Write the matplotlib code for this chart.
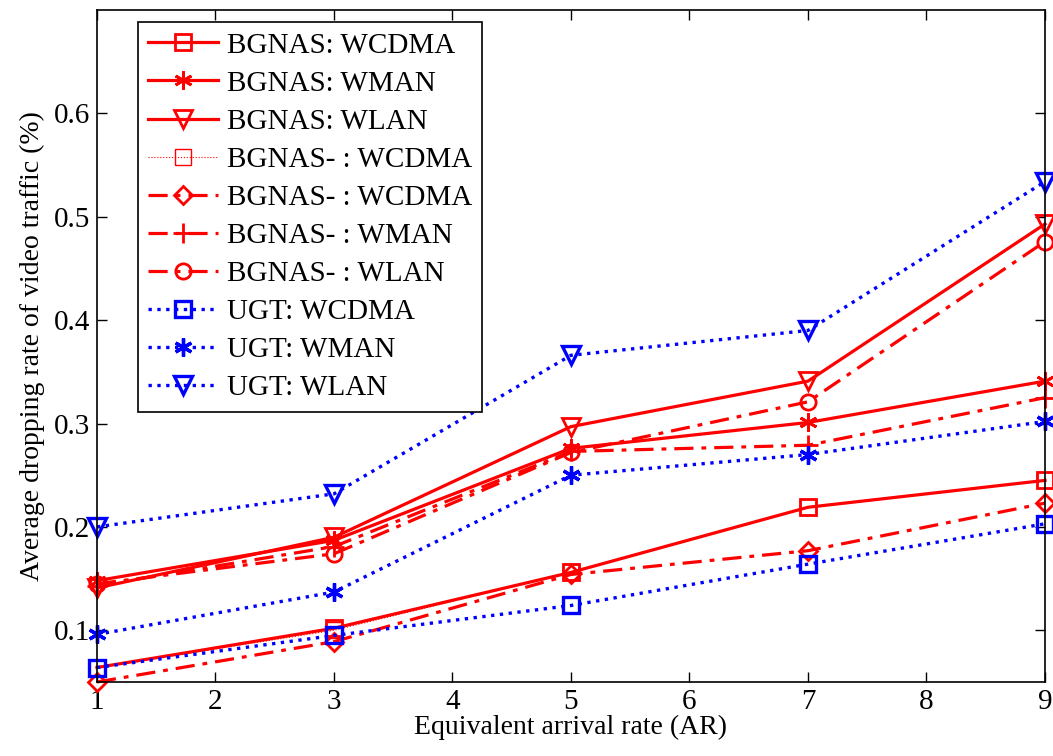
import numpy as np
import matplotlib
matplotlib.use("Agg")
import matplotlib.pyplot as plt

plt.rcParams['font.family'] = ['Liberation Serif', 'DejaVu Serif']
plt.rcParams['mathtext.fontset'] = 'stix'

# arrival rates
ar = [1, 3, 5, 7, 9]

# dropping rates
bgnas_wcdma = [0.064, 0.102, 0.156, 0.219, 0.245]
bgnas_wman = [0.148, 0.187, 0.276, 0.301, 0.341]
bgnas_wlan = [0.141, 0.190, 0.297, 0.341, 0.493]
bgnas2_wcdma_a = [0.064, 0.100, 0.156, 0.219, 0.245]
bgnas2_wcdma = [0.050, 0.089, 0.154, 0.177, 0.223]
bgnas2_wman = [0.143, 0.181, 0.273, 0.279, 0.325]
bgnas2_wlan = [0.145, 0.174, 0.272, 0.321, 0.476]
ugt_wcdma = [0.064, 0.095, 0.124, 0.164, 0.203]
ugt_wman = [0.096, 0.137, 0.250, 0.270, 0.302]
ugt_wlan = [0.200, 0.232, 0.366, 0.390, 0.534]

labels = ["BGNAS: WCDMA", "BGNAS: WMAN", "BGNAS: WLAN",
          "BGNAS- : WCDMA", "BGNAS- : WCDMA", "BGNAS- : WMAN", "BGNAS- : WLAN",
          "UGT: WCDMA", "UGT: WMAN", "UGT: WLAN"]

fig = plt.figure(figsize=(10.53, 7.56), dpi=100)
ax = fig.add_axes([0.0921, 0.0979, 0.9003, 0.8889])

lw = 2.3
ms = 11
dashdot = (0, (6, 2.5, 1.5, 2.5))
kw = dict(clip_on=False)
ax.plot(ar, bgnas_wcdma, color='red', ls='-', lw=lw, marker='s', ms=ms, mfc='none', mew=2.0, label=labels[0], **kw)
ax.plot(ar, bgnas_wman, color='red', ls='-', lw=lw, marker=(6, 2, 0), ms=ms + 2, mew=2.0, label=labels[1], **kw)
ax.plot(ar, bgnas_wlan, color='red', ls='-', lw=lw, marker='v', ms=ms + 2, mfc='none', mew=2.0, label=labels[2], **kw)
ax.plot(ar, bgnas2_wcdma_a, color='red', ls=':', lw=0.8, marker='s', ms=ms, mfc='none', mew=1.0, label=labels[3], **kw)
ax.plot(ar, bgnas2_wcdma, color='red', ls=dashdot, lw=lw, marker='D', ms=ms - 2, mfc='none', mew=2.0, label=labels[4], **kw)
ax.plot(ar, bgnas2_wman, color='red', ls=dashdot, lw=lw, marker='+', ms=ms + 3, mew=2.0, label=labels[5], **kw)
ax.plot(ar, bgnas2_wlan, color='red', ls=dashdot, lw=lw, marker='o', ms=ms, mfc='none', mew=2.0, label=labels[6], **kw)
ax.plot(ar, ugt_wcdma, color='blue', ls=':', lw=2.4, marker='s', ms=ms, mfc='none', mew=2.4, label=labels[7], **kw)
ax.plot(ar, ugt_wman, color='blue', ls=':', lw=2.4, marker=(6, 2, 0), ms=ms + 2, mew=2.4, label=labels[8], **kw)
ax.plot(ar, ugt_wlan, color='blue', ls=':', lw=2.4, marker='v', ms=ms + 2, mfc='none', mew=2.4, label=labels[9], **kw)

ax.set_xlim(1, 9)
ax.set_ylim(0.05, 0.7)
ax.set_xticks(range(1, 10))
ax.set_yticks([0.1, 0.2, 0.3, 0.4, 0.5, 0.6])
ax.set_yticklabels(['0.1', '0.2', '0.3', '0.4', '0.5', '0.6'])
ax.tick_params(direction='in', top=True, right=True, labelsize=21, length=7, width=1, pad=5)
for s in ax.spines.values():
    s.set_linewidth(1.2)

ax.set_xlabel("Equivalent arrival rate (AR)", fontsize=20, labelpad=0)
ax.set_ylabel("Average dropping rate of video traffic (%)", fontsize=20, labelpad=6)

leg = ax.legend(loc='upper left', bbox_to_anchor=(138 / 1053, 1 - 22 / 756),
                bbox_transform=fig.transFigure, fontsize=21, handlelength=2.4,
                fancybox=False, framealpha=1, edgecolor='black',
                borderpad=0.35, labelspacing=0.4, handletextpad=0.3, borderaxespad=0)
leg.get_frame().set_linewidth(1.2)

fig.savefig("out.png", dpi=100)
